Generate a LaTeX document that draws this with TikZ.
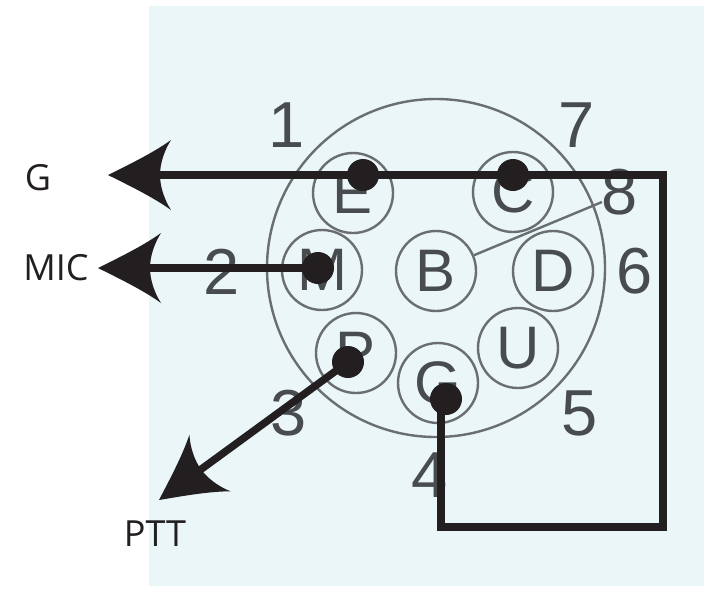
\documentclass[tikz,border=0pt]{standalone}
\usepackage{fontspec}
\usetikzlibrary{calc}
\setmainfont{Liberation Sans}
\newfontfamily\labelfont{Open Sans}
\definecolor{panel}{HTML}{EAF6F8}
\definecolor{ink}{HTML}{231F20}
\definecolor{ringgray}{HTML}{6A6E71}
\definecolor{glyph}{HTML}{484C4F}
\tikzset{
  pinring/.style={circle,draw=ringgray,line width=2.4pt,minimum size=80pt,inner sep=0pt,font=\fontsize{60}{60}\selectfont,text=glyph},
  shellring/.style={circle,draw=ringgray,line width=2.4pt,minimum size=338pt,inner sep=0pt},
  digit/.style={inner sep=0pt,font=\fontsize{65}{65}\selectfont,text=glyph},
  wirelabel/.style={inner sep=0pt,font=\labelfont\fontsize{36}{36}\selectfont,text=ink},
  wire/.style={draw=ink,line width=7.5pt,line join=miter},
  dot/.style={circle,fill=ink,minimum size=32pt,inner sep=0pt},
  barb/.pic={\fill[ink] (0,0) .. controls (20,10) and (45,22) .. (63,35) .. controls (56,24) and (52,11) .. (52,0)
     .. controls (52,-11) and (56,-24) .. (63,-35) .. controls (45,-22) and (20,-10) .. (0,0) -- cycle;}
}
\begin{document}
\begin{tikzpicture}[x=1pt,y=-1pt]
\useasboundingbox (0,0) rectangle (711,590);
\fill[panel] (149,6) rectangle (704,586);
\node[shellring] (shell) at (436,268) {};
\node[pinring] (E) at (353,193) {E};
\node[pinring] (M) at (322,270) {M};
\node[pinring] (C) at (513,192) {C};
\node[pinring] (B) at (436,271) {B};
\node[pinring] (D) at (553,271) {D};
\node[pinring] (P) at (356,353) {P};
\node[pinring] (Gp) at (438,383) {G};
\node[pinring] (U) at (518,348) {U};
\node[digit] (n1) at (287,125) {1};
\node[digit] (n2) at (222,272) {2};
\node[digit] (n3) at (289,413) {3};
\node[digit] (n4) at (430,475) {4};
\node[digit] (n5) at (580,413) {5};
\node[digit] (n6) at (635,271) {6};
\node[digit] (n7) at (577,125) {7};
\node[digit] (n8) at (620,192) {8};
\coordinate (leaderEnd) at (602,202);
\draw[ringgray,line width=2.4pt] (B) -- (leaderEnd);
\node[wirelabel] (lG) at (38,178) {G};
\node[wirelabel] (lM) at (56,268) {MIC};
\node[wirelabel] (lP) at (155,534) {PTT};
\node[dot] (dE) at (363,175) {};
\node[dot] (dC) at (513,175) {};
\node[dot] (dM) at (318,268) {};
\node[dot] (dP) at (348,362) {};
\node[dot] (dG) at (446,399) {};
\coordinate (tipG) at (108,175);
\coordinate (tipM) at (98,268);
\coordinate (tipP) at (159,500);
\coordinate (cornerA) at (663,175);
\coordinate (cornerB) at (663,527);
\coordinate (cornerC) at (441,527);
\coordinate (cornerD) at (441,399);
\draw[wire] ($(tipG)+(40,0)$) -- (dE.center) -- (dC.center) -- (cornerA) -- (cornerB) -- (cornerC) -- (cornerD);
\draw[wire] (dM.center) -- ($(tipM)+(40,0)$);
\draw[wire] (dP.center) -- ($(tipP)!0.15!(dP.center)$);
\pic at (tipG) {barb};
\pic at (tipM) {barb};
\pic[rotate=36] at (tipP) {barb};
\end{tikzpicture}
\end{document}
